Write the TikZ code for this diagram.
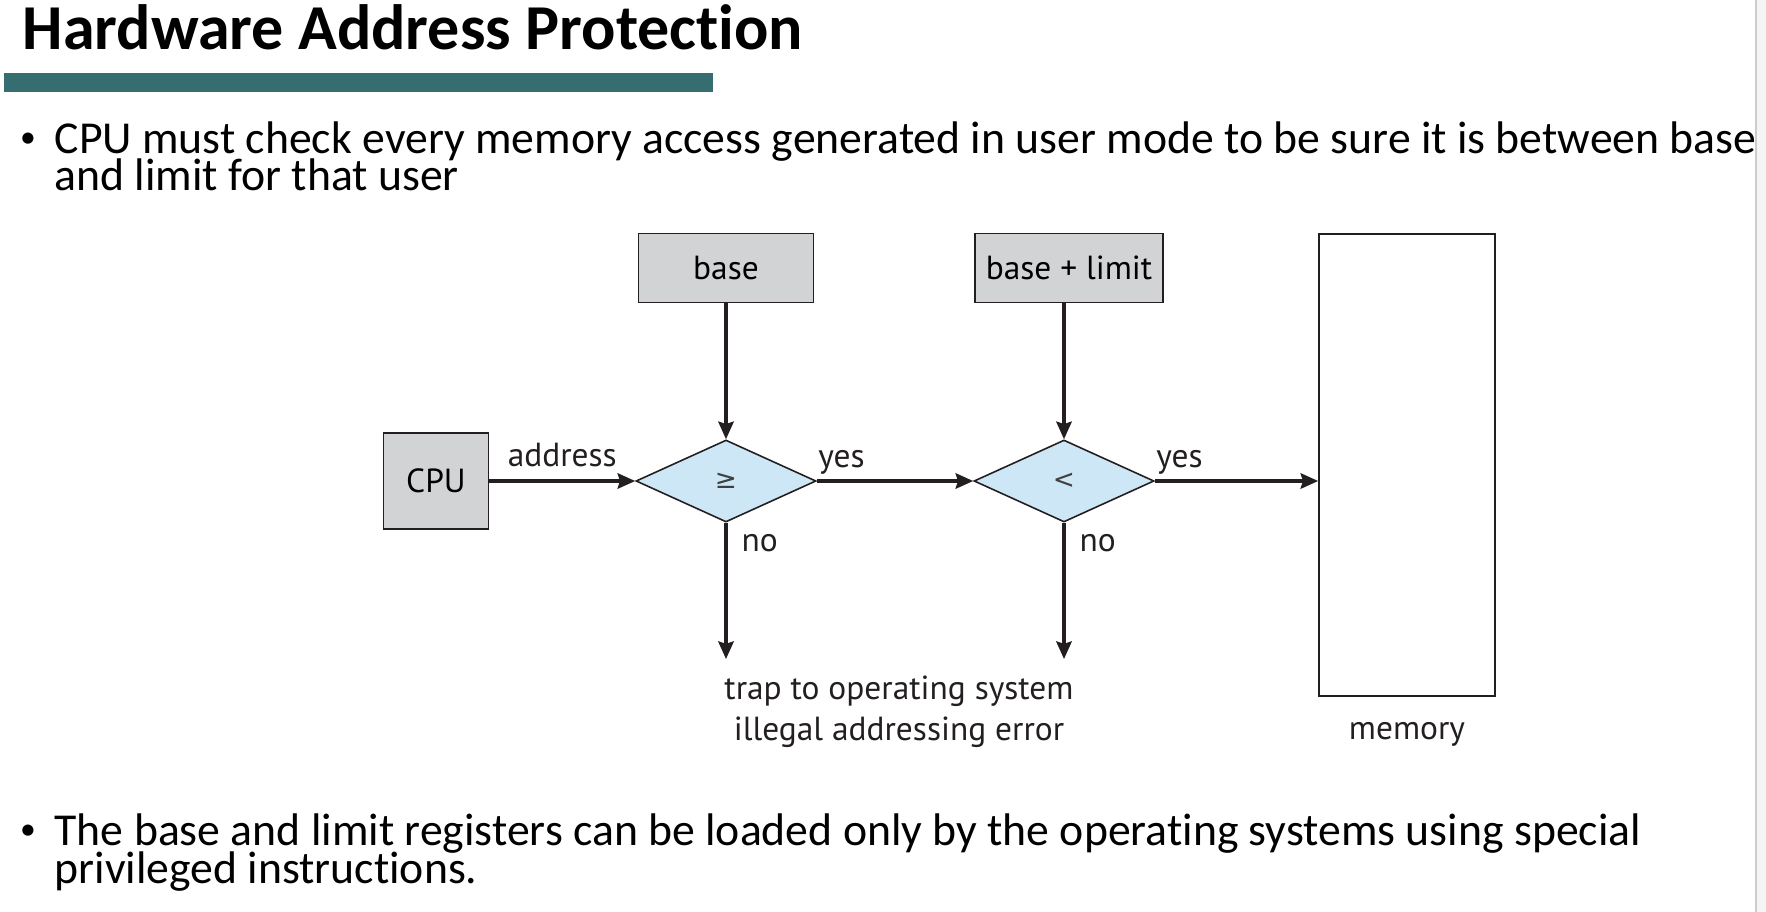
\documentclass[tikz,border=0pt]{standalone}
\usepackage{fontspec}
\setmainfont{Carlito}[Ligatures=CommonOff]
\newfontfamily\diafont{PT Sans}
\newfontfamily\symfont{DejaVu Sans}
\usetikzlibrary{shapes.geometric,arrows.meta}
\definecolor{barteal}{HTML}{366D70}
\definecolor{boxgray}{HTML}{D2D3D5}
\definecolor{diablue}{HTML}{CDE7F6}
\definecolor{linegray}{HTML}{231F20}
\begin{document}
\begin{tikzpicture}[x=0.01cm, y=-0.01cm,
  box/.style={draw=linegray, line width=0.45pt, fill=boxgray, inner sep=0pt,
    font=\diafont\fontsize{9.5}{11}\selectfont},
  test/.style={diamond, draw=linegray, line width=0.45pt, fill=diablue, inner sep=0pt,
    minimum width=1.8cm, minimum height=0.82cm, text=black!75,
    font=\symfont\fontsize{7.5}{9}\selectfont},
  pfeil/.style={draw=linegray, line width=0.9pt,
    -{Stealth[length=5pt, width=4.4pt, inset=0.7pt]}},
  lbl/.style={inner sep=0pt, text=linegray, font=\diafont\fontsize{9.5}{11.7}\selectfont},
  body/.style={anchor=base west, inner sep=0pt, font=\fontsize{13}{16}\selectfont},
  dot/.style={inner sep=0pt, font=\fontsize{9}{10}\selectfont}]
  % Rahmen
  \useasboundingbox (0,0) rectangle (1766,912);
  \fill[white] (0,0) rectangle (1766,912);
  \fill[black!4] (1756,0) rectangle (1766,912);
  \draw[black!20, line width=0.4pt] (1756,0) -- (1756,912);
  % Titel
  \node[anchor=base west, inner sep=0pt, font=\bfseries\fontsize{18.2}{20}\selectfont]
    (title) at (22,50) {Hardware Address Protection};
  \fill[barteal] (4,73) rectangle (713,92);
  % Aufzaehlung
  \node[dot] (dot1) at (28,140) {\textbullet};
  \node[body] (l1) at (54,153) {CPU must check every memory access generated in user mode to be sure it is between base};
  \node[body] (l2) at (54,190) {and limit for that user};
  \node[dot] (dot2) at (28,832) {\textbullet};
  \node[body] (l3) at (54,845) {The base and limit registers can be loaded only by the operating systems using special};
  \node[body] (l4) at (54,883) {privileged instructions.};
  % Kaesten
  \node[box, minimum width=1.05cm, minimum height=0.96cm] (cpu) at (436,481) {CPU};
  \node[box, minimum width=1.75cm, minimum height=0.69cm] (base) at (726,268) {base};
  \node[box, minimum width=1.88cm, minimum height=0.69cm] (limit) at (1069,268) {base + limit};
  \node[box, fill=white, minimum width=1.76cm, minimum height=4.62cm] (mem) at (1407,465) {};
  % Vergleiche
  \node[test] (geq) at (726,481) {≥};
  \node[test] (lt) at (1064,481) {<};
  \coordinate (no1) at (726,659);
  \coordinate (no2) at (1064,659);
  % Pfeile
  \draw[pfeil] (cpu.east |- geq.west) -- node[lbl, above=3.7pt] {address} (geq.west);
  \draw[pfeil] (base) -- (geq);
  \draw[pfeil] (limit.south -| lt.north) -- (lt.north);
  \draw[pfeil] (geq.east) -- (lt.west)
    node[lbl, pos=0, anchor=south west, yshift=1.5pt] {yes};
  \draw[pfeil] (lt.east) -- (lt.east -| mem.west)
    node[lbl, pos=0, anchor=south west, yshift=1.5pt] {yes};
  \draw[pfeil] (geq.south) -- (no1)
    node[lbl, pos=0, anchor=north west, xshift=4pt, yshift=-2.8pt] {no};
  \draw[pfeil] (lt.south) -- (no2)
    node[lbl, pos=0, anchor=north west, xshift=4pt, yshift=-2.8pt] {no};
  % Beschriftungen
  \node[lbl, align=center] (trap) at (899,712) {trap to operating system\\illegal addressing error};
  \node[lbl] (memlbl) at (1407,734) {memory};
\end{tikzpicture}
\end{document}
